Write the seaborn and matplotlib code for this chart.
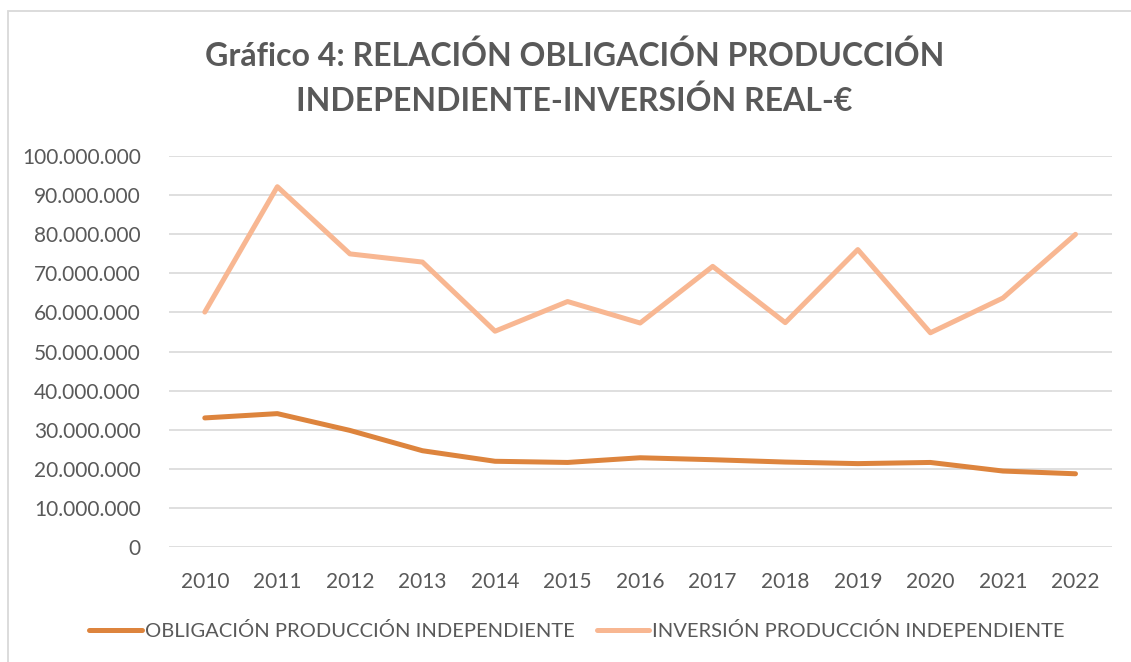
import pandas as pd
import matplotlib.pyplot as plt
import seaborn as sns
from matplotlib.ticker import FuncFormatter
from matplotlib.patches import Rectangle

years = ['2010', '2011', '2012', '2013', '2014', '2015', '2016',
         '2017', '2018', '2019', '2020', '2021', '2022']
obligacion = [33.0, 34.1, 29.8, 24.6, 21.9, 21.6, 22.8,
              22.3, 21.7, 21.3, 21.6, 19.4, 18.7]
inversion = [60.1, 92.2, 75.0, 72.9, 55.2, 62.8, 57.3,
             71.8, 57.4, 76.1, 54.8, 63.7, 80.0]

serie_1 = 'OBLIGACIÓN PRODUCCIÓN INDEPENDIENTE'
serie_2 = 'INVERSIÓN PRODUCCIÓN INDEPENDIENTE'

df = pd.DataFrame({'Año': years,
                   serie_1: [v * 1e6 for v in obligacion],
                   serie_2: [v * 1e6 for v in inversion]})
long_df = df.melt(id_vars='Año', var_name='Serie', value_name='Euros')

sns.set_theme(style='white')
plt.rcParams['font.family'] = ['Lato', 'DejaVu Sans']
gray = '#595959'

fig = plt.figure(figsize=(11.31, 6.62), dpi=100)
ax = fig.add_axes([0.149, 0.174, 0.834, 0.590])

# chart border like the spreadsheet frame
fig.patches.append(Rectangle((8 / 1131, -0.1), 1.2, 1 - 11 / 662 + 0.1,
                             transform=fig.transFigure, fill=False,
                             edgecolor='#D9D9D9', linewidth=1.3))

sns.lineplot(data=long_df, x='Año', y='Euros', hue='Serie',
             palette=['#DD843D', '#F8B792'], linewidth=3.6,
             ax=ax, sort=False, legend=False)

ax.set_xlim(-0.5, len(years) - 0.5)
ax.set_ylim(0, 100e6)
ax.set_yticks([i * 10e6 for i in range(11)])
ax.yaxis.set_major_formatter(FuncFormatter(lambda v, p: f'{v:,.0f}'.replace(',', '.')))
ax.grid(axis='y', color='#D9D9D9', linewidth=1.2)
ax.set_axisbelow(True)
for s in ax.spines.values():
    s.set_visible(False)
ax.tick_params(axis='both', colors=gray, labelsize=15, length=0)
ax.tick_params(axis='y', pad=20)
ax.tick_params(axis='x', pad=18)
ax.set_xlabel('')
ax.set_ylabel('')

fig.text(0.508, 0.882, 'Gráfico 4: RELACIÓN OBLIGACIÓN PRODUCCIÓN\nINDEPENDIENTE-INVERSIÓN REAL-€',
         ha='center', va='center', fontsize=23, fontweight='bold', color=gray,
         linespacing=1.55)

handles = [plt.Line2D([], [], color='#DD843D', linewidth=3.6, solid_capstyle='round'),
           plt.Line2D([], [], color='#F8B792', linewidth=3.6, solid_capstyle='round')]
fig.legend(handles, [serie_1, serie_2], loc='center', bbox_to_anchor=(0.51, 0.047),
           ncol=2, frameon=False, fontsize=14.5, labelcolor=gray,
           handlelength=2.6, handletextpad=0.15, columnspacing=1.1)

fig.savefig('out.png', dpi=100, facecolor='white')
